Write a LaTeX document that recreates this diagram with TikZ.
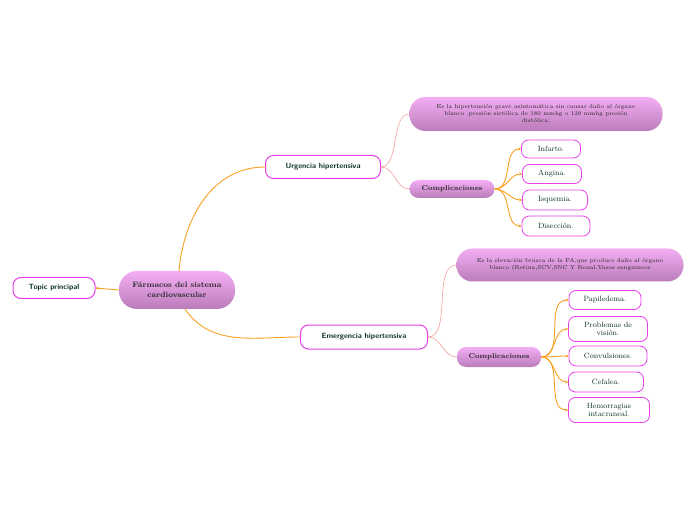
\documentclass[tikz,border=0pt]{standalone}
\usepackage{tikz}
\usetikzlibrary{arrows.meta, positioning}
\definecolor{rama}{HTML}{F7A021}
\definecolor{ramarosa}{HTML}{F4A0A0}
\definecolor{borde}{HTML}{E53EE8}
\definecolor{texto}{HTML}{0A3325}
\definecolor{lilaarriba}{HTML}{F4AEF4}
\definecolor{lilaabajo}{HTML}{BA7CBA}

\tikzset{
  topicbox/.style={draw=borde, line width=1pt, fill=white, rounded corners=8pt,
    font=\sffamily\bfseries\fontsize{7.6}{8.5}\selectfont, text=texto, inner sep=2pt},
  lilabox/.style={top color=lilaarriba, bottom color=lilaabajo, rounded corners=9pt,
    text=black!85, align=center, inner sep=2pt},
  itembox/.style={draw=borde, line width=0.8pt, fill=white, rounded corners=7pt,
    font=\fontsize{7.6}{7.8}\selectfont, text=texto, align=center, inner sep=1pt},
  rama/.style={draw=rama, line width=0.9pt},
  ramita/.style={draw=rama, line width=0.9pt, -{Stealth[length=3pt,width=3pt]}},
  rosa/.style={draw=ramarosa, line width=0.6pt}
}

\begin{document}
\begin{tikzpicture}[x=1pt, y=1pt]
 \useasboundingbox (0,0) rectangle (696,520);

 % nodos principales
 \node[lilabox, minimum width=116pt, minimum height=38pt, rounded corners=18pt,
   font=\bfseries\fontsize{7.8}{9.5}\selectfont] (main) at (177,230)
   {F\'armacos del sistema\\cardiovascular};
 \node[topicbox, minimum width=82pt, minimum height=21pt] (topic) at (54,232) {Topic principal};
 \node[topicbox, minimum width=115pt, minimum height=23pt] (urg) at (323,353) {Urgencia hipertensiva};
 \node[topicbox, minimum width=127pt, minimum height=24pt] (emer) at (364,183) {Emergencia hipertensiva};

 % urgencia
 \node[lilabox, minimum width=253pt, minimum height=34pt, rounded corners=16pt,
   font=\fontsize{5.8}{7}\selectfont] (desc1) at (536,406)
   {Es la hipertensi\'on grave asintom\'atica sin causar da\~no al \'organo\\
    blanco ,presi\'on sist\'olica de 180 mmhg o 120 mmhg presi\'on\\dist\'olica.};
 \node[lilabox, minimum width=85pt, minimum height=18pt,
   font=\bfseries\fontsize{7}{7.5}\selectfont] (comp1) at (452,331) {Complicaciones};
 \node[itembox, minimum width=59pt, minimum height=18pt] (inf) at (551,371) {Infarto.};
 \node[itembox, minimum width=59pt, minimum height=19pt] (ang) at (552,346) {Angina.};
 \node[itembox, minimum width=65pt, minimum height=20pt] (isq) at (555,320) {Isquemia.};
 \node[itembox, minimum width=68pt, minimum height=20pt] (dis) at (556,294) {Disecci\'on.};

 % emergencia
 \node[lilabox, minimum width=227pt, minimum height=33pt, rounded corners=16pt,
   font=\fontsize{5.8}{7}\selectfont] (desc2) at (570,255)
   {Es la elevaci\'on brusca de la PA,que produce da\~no al \'organo\\
    blanco (Retina,SCV,SNC Y Renal,Vasos sanguineos};
 \node[lilabox, minimum width=84pt, minimum height=20pt,
   font=\bfseries\fontsize{7}{7.5}\selectfont] (comp2) at (499,163) {Complicaciones};
 \node[itembox, minimum width=72pt, minimum height=19pt] (pap) at (605,220) {Papiledema.};
 \node[itembox, minimum width=79pt, minimum height=25pt] (prob) at (608,191) {Problemas de\\visi\'on.};
 \node[itembox, minimum width=78pt, minimum height=20pt] (conv) at (608,164) {Convulsiones.};
 \node[itembox, minimum width=75pt, minimum height=20pt] (cef) at (606,138) {Cefalea.};
 \node[itembox, minimum width=81pt, minimum height=25pt] (hem) at (609,110) {Hemorragias\\intacraneal.};

 % ramas
 \draw[ramita] (main.west) -- (topic.east);
 \draw[rama] ([xshift=2pt]main.north) to[out=85, in=180] (urg.west);
 \draw[rama] ([xshift=8pt]main.south) to[out=-55, in=180] (emer.west);
 \draw[rosa] (urg.east) to[out=0, in=180, looseness=0.8] (desc1.west);
 \draw[rosa] (urg.east) to[out=0, in=180] (comp1.west);
 \draw[rosa] (emer.east) to[out=0, in=180, looseness=0.8] (desc2.west);
 \draw[rosa] (emer.east) to[out=0, in=180] (comp2.west);
 \foreach \n in {inf, ang, isq, dis}
   \draw[ramita] (comp1.east) to[out=0, in=180] (\n.west);
 \foreach \n in {pap, prob, conv, cef, hem}
   \draw[ramita] (comp2.east) to[out=0, in=180] (\n.west);
\end{tikzpicture}
\end{document}
